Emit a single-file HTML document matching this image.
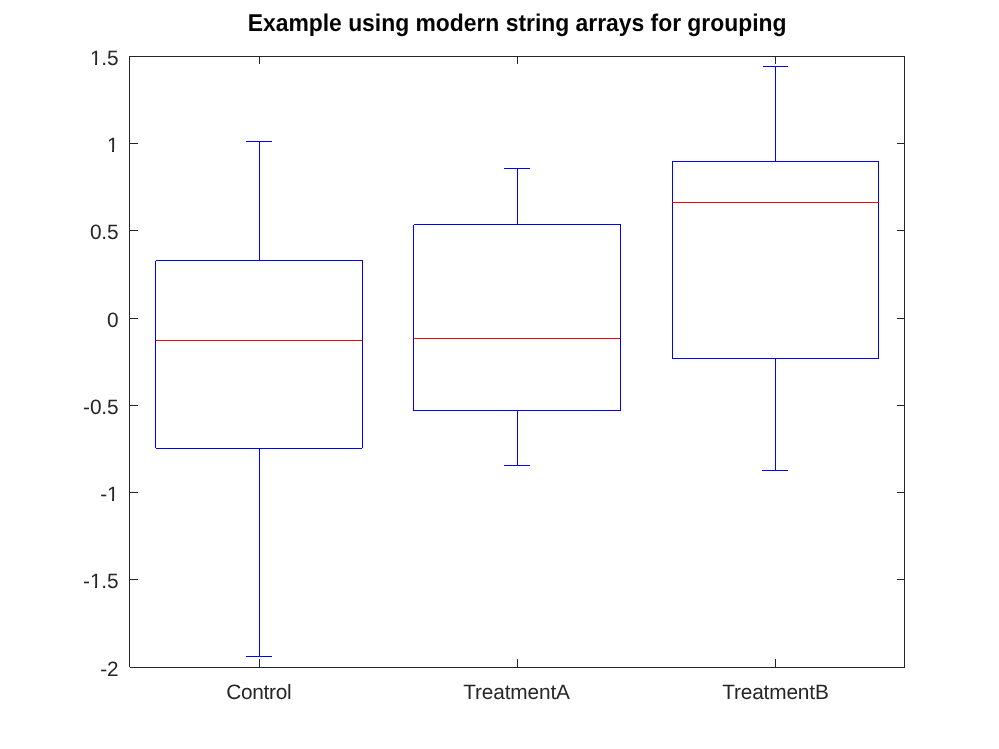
<!DOCTYPE html>
<html>
<head>
<meta charset="utf-8">
<title>Boxplot</title>
<style>
html,body{margin:0;padding:0;background:#fff;}
body{width:999px;height:749px;overflow:hidden;font-family:"Liberation Sans",sans-serif;}
svg{display:block;position:absolute;left:0;top:0;}
.ax{fill:#262626;}
.b{fill:#0000ff;}
.r{fill:#ff0000;}
text{font-family:"Liberation Sans",sans-serif;text-rendering:geometricPrecision;}
.txt{will-change:transform;opacity:0.999;}
.tl{font-size:20.83px;fill:#262626;letter-spacing:-0.15px;}
.ti{font-size:22.92px;font-weight:bold;fill:#000;letter-spacing:-0.02px;}
</style>
</head>
<body>
<svg width="999" height="749" viewBox="0 0 999 749">
<rect x="0" y="0" width="999" height="749" fill="#ffffff"/>
<g shape-rendering="crispEdges">
<!-- axes box -->
<g class="ax">
<rect x="129" y="56" width="776" height="1"/>
<rect x="130" y="667" width="775" height="1"/>
<rect x="129" y="56" width="1" height="611"/>
<rect x="904" y="56" width="1" height="612"/>
<!-- x ticks bottom -->
<rect x="259" y="659" width="1" height="8"/>
<rect x="517" y="659" width="1" height="8"/>
<rect x="775" y="659" width="1" height="8"/>
<!-- x ticks top -->
<rect x="259" y="57" width="1" height="7"/>
<rect x="517" y="57" width="1" height="7"/>
<rect x="775" y="57" width="1" height="7"/>
<!-- y ticks left -->
<rect x="130" y="143" width="8" height="1"/>
<rect x="130" y="230" width="8" height="1"/>
<rect x="130" y="318" width="8" height="1"/>
<rect x="130" y="405" width="8" height="1"/>
<rect x="130" y="492" width="8" height="1"/>
<rect x="130" y="579" width="8" height="1"/>
<!-- y ticks right -->
<rect x="897" y="143" width="7" height="1"/>
<rect x="897" y="230" width="7" height="1"/>
<rect x="897" y="318" width="7" height="1"/>
<rect x="897" y="405" width="7" height="1"/>
<rect x="897" y="492" width="7" height="1"/>
<rect x="897" y="579" width="7" height="1"/>
</g>
<!-- Control -->
<g class="b">
<rect x="246" y="141" width="26" height="1"/>
<rect x="259" y="141" width="1" height="119"/>
<rect x="156" y="260" width="207" height="1"/>
<rect x="155" y="261" width="1" height="187"/>
<rect x="362" y="260" width="1" height="188"/>
<rect x="156" y="448" width="206" height="1"/>
<rect x="259" y="448" width="1" height="208"/>
<rect x="246" y="656" width="26" height="1"/>
</g>
<rect class="r" x="156" y="340" width="206" height="1"/>
<!-- TreatmentA -->
<g class="b">
<rect x="504" y="168" width="26" height="1"/>
<rect x="517" y="168" width="1" height="56"/>
<rect x="414" y="224" width="207" height="1"/>
<rect x="413" y="225" width="1" height="186"/>
<rect x="620" y="224" width="1" height="187"/>
<rect x="413" y="410" width="208" height="1"/>
<rect x="517" y="410" width="1" height="55"/>
<rect x="504" y="465" width="26" height="1"/>
</g>
<rect class="r" x="414" y="338" width="206" height="1"/>
<!-- TreatmentB -->
<g class="b">
<rect x="763" y="66" width="25" height="1"/>
<rect x="775" y="66" width="1" height="95"/>
<rect x="672" y="161" width="207" height="1"/>
<rect x="672" y="161" width="1" height="198"/>
<rect x="878" y="161" width="1" height="198"/>
<rect x="672" y="358" width="207" height="1"/>
<rect x="775" y="358" width="1" height="112"/>
<rect x="762" y="470" width="26" height="1"/>
</g>
<rect class="r" x="672" y="202" width="207" height="1"/>
</g>
</svg>
<svg class="txt" width="999" height="749" viewBox="0 0 999 749">
<!-- y tick labels -->
<g class="tl" text-anchor="end" transform="translate(0 -0.3)">
<text x="118.4" y="65">1.5</text>
<text x="118.4" y="152">1</text>
<text x="118.4" y="239">0.5</text>
<text x="118.4" y="327">0</text>
<text x="118.4" y="414">-0.5</text>
<text x="118.4" y="501">-1</text>
<text x="118.4" y="588">-1.5</text>
<text x="118.4" y="676">-2</text>
</g>
<!-- hide foot serif of digit 1 to match reference glyph shape -->
<g fill="#ffffff" shape-rendering="crispEdges">
<rect x="89" y="62.4" width="6" height="3.2"/><rect x="97" y="62.4" width="4.6" height="3.2"/>
<rect x="106" y="149.4" width="6" height="3.2"/><rect x="114" y="149.4" width="4.6" height="3.2"/>
<rect x="106" y="498.4" width="6" height="3.2"/><rect x="114" y="498.4" width="4.6" height="3.2"/>
<rect x="89" y="585.4" width="6" height="3.2"/><rect x="97" y="585.4" width="4.6" height="3.2"/>
</g>
<!-- x tick labels -->
<g class="tl" text-anchor="middle" transform="translate(0 -0.35)">
<text x="258.8" y="699" style="letter-spacing:-0.28px">Control</text>
<text x="516.5" y="699">TreatmentA</text>
<text x="775.4" y="699">TreatmentB</text>
</g>
<!-- title -->
<text class="ti" text-anchor="middle" x="517.1" y="0" transform="translate(0 30.8) scale(1 1.06)">Example using modern string arrays for grouping</text>
</svg>
</body>
</html>
